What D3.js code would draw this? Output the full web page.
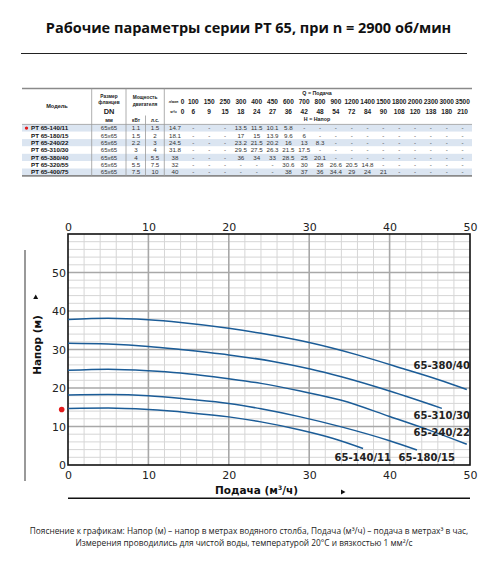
<!DOCTYPE html>
<html><head><meta charset="utf-8">
<script src="https://cdn.jsdelivr.net/npm/d3@7"></script>
<style>
body{margin:0;background:#fff;}
svg{display:block;}
</style></head>
<body>
<script>
// ---------- DATA ----------
const title = "Рабочие параметры серии PT 65, при n = 2900 об/мин";
const qLpm = ["100","150","250","300","400","450","600","700","800","900","1200","1400","1500","1800","2000","2300","3000","3500"];
const qM3h = ["6","9","15","18","24","27","36","42","48","54","72","84","90","108","120","138","180","210"];
const models = ["PT 65-140/11","PT 65-180/15","PT 65-240/22","PT 65-310/30","PT 65-380/40","PT 65-320/55","PT 65-400/75"];
const flanges = ["65х65","65х65","65х65","65х65","65х65","65х65","65х65"];
const powerKw = ["1.1","1.5","2.2","3","4","5.5","7.5"];
const powerHp = ["1.5","2","3","4","5.5","7.5","10"];
const heads = [
 ["14.7","-","-","-","13.5","11.5","10.1","5.8","-","-","-","-","-","-","-","-","-","-","-"],
 ["18.1","-","-","-","17","15","13.9","9.6","6","-","-","-","-","-","-","-","-","-","-"],
 ["24.5","-","-","-","23.2","21.5","20.2","16","13","8.3","-","-","-","-","-","-","-","-","-"],
 ["31.8","-","-","-","29.5","27.5","26.3","21.5","17.5","-","-","-","-","-","-","-","-","-","-"],
 ["38","-","-","-","36","34","33","28.5","25","20.1","-","-","-","-","-","-","-","-","-"],
 ["32","-","-","-","-","-","-","30.6","30","28","26.6","20.5","14.8","-","-","-","-","-","-"],
 ["40","-","-","-","-","-","-","38","37","36","34.4","29","24","21","-","-","-","-","-"]
];
const xTicks = [0,10,20,30,40,50];
const yTicks = [0,10,20,30,40,50];
// curves: flow (m3/h) and head (m)
const curveNames = ["65-380/40","65-310/30","65-240/22","65-180/15","65-140/11"];
const q380 = [0,5,10,14,20,24,30,36,42,46,49.6];
const h380 = [37.8,38.1,37.7,37.0,35.5,34.2,31.8,28.6,24.8,22.2,19.6];
const q310 = [0,5,10,14,20,25.5,30,34,40,46.5];
const h310 = [31.6,31.4,30.8,30.0,28.6,26.9,25.0,22.9,19.2,14.7];
const q240 = [0,5,10,14,20,24,28.9,34,40,45,49.6];
const h240 = [24.6,24.9,24.5,23.9,22.4,21.2,19.2,16.8,12.6,9.0,5.4];
const q180 = [0,5,10,15,20,24,28.9,34,40,43.4];
const h180 = [18.2,18.3,18.0,17.1,16.0,14.6,12.5,9.9,6.3,3.9];
const q140 = [0,5,10,15,20,24,28.9,33,36.7];
const h140 = [14.7,14.8,14.4,13.6,12.5,11.2,9.1,6.9,4.3];
const footer1 = "Пояснение к графикам: Напор (м) – напор в метрах водяного столба, Подача (м³/ч) – подача в метрах³ в час,";
const footer2 = "Измерения проводились для чистой воды, температурой 20°С и вязкостью 1 мм²/с";

// ---------- DRAW ----------
const W = 500, H = 567;
const svg = d3.select("body").append("svg").attr("width", W).attr("height", H);
const TF = "'Open Sans', 'Noto Sans', sans-serif";
const SF = "'Liberation Sans', Arial, sans-serif";

svg.append("text").attr("x", 248.5).attr("y", 33).attr("text-anchor","middle")
  .style("font-family", TF).style("font-weight","bold").style("font-size","14.5px").attr("fill","#111").text(title);
svg.append("line").attr("x1",21).attr("x2",467).attr("y1",53.5).attr("y2",53.5).attr("stroke","#222").attr("stroke-width",1);

// ---------- TABLE ----------
const tb = svg.append("g");
const tL = 22, tR = 472, tTop = 88.5, hdrBot = 124.4, rowH = 7.35;
const qBand = d3.scaleBand().domain(qLpm).range([185.4, 470.5]);
const rowY = d3.scaleBand().domain(models).range([hdrBot, hdrBot + rowH*models.length]);
models.forEach((m,i)=>{
  tb.append("rect").attr("x",tL).attr("width",tR-tL).attr("y",rowY(m)).attr("height",rowY.bandwidth())
    .attr("fill", i%2===0 ? "#dbe5f1" : "#ffffff");
});
tb.append("line").attr("x1",tL).attr("x2",tR).attr("y1",tTop).attr("y2",tTop).attr("stroke","#8a8a8a").attr("stroke-width",1.6);
tb.append("line").attr("x1",tL).attr("x2",tR).attr("y1",hdrBot).attr("y2",hdrBot).attr("stroke","#9a9a9a").attr("stroke-width",0.8);
const tBot = hdrBot + rowH*models.length;
tb.append("line").attr("x1",tL).attr("x2",tR).attr("y1",tBot).attr("y2",tBot).attr("stroke","#8a8a8a").attr("stroke-width",1.6);
[[91.7,tTop,tBot],[126,tTop,tBot],[164.3,tTop,tBot],[145.5,115.5,tBot]].forEach(v=>{
  tb.append("line").attr("x1",v[0]).attr("x2",v[0]).attr("y1",v[1]).attr("y2",v[2]).attr("stroke","#9a9a9a").attr("stroke-width",0.8);
});
function tt(x,y,s,size,bold,anchor,col){
  return tb.append("text").attr("x",x).attr("y",y).attr("text-anchor",anchor||"middle")
    .style("font-family",SF).style("font-size",size+"px").style("font-weight",bold?"bold":"normal")
    .attr("fill",col||"#222").text(s);
}
tt(57,108,"Модель",5.6,true);
tt(109,98,"Размер",4.8,true); tt(109,104,"фланцев",4.8,true);
tt(109,114,"DN",7.4,true); tt(109,121.5,"мм",5.2,true);
tt(145,99,"Мощность",4.8,true); tt(145,105.5,"двигателя",4.8,true);
tt(136,121.5,"кВт",4.6,true); tt(155,121.5,"л.с.",4.6,true);
tt(317,95.3,"Q = Подача",5.3,true);
tt(317,121,"H = Напор",5.3,true);
tt(173.5,103.3,"л/мин",3.4,true); tt(182.5,103.6,"0",6.5,true);
tt(173.5,113.3,"м³/ч",3.4,true); tt(182.5,113.6,"0",6.5,true);
qLpm.forEach((q,j)=>tt(qBand(q)+qBand.bandwidth()/2,103.6,q,6.5,true));
qLpm.forEach((q,j)=>tt(qBand(q)+qBand.bandwidth()/2,113.6,qM3h[j],6.5,true));
models.forEach((m,i)=>{
  const yy = rowY(m)+rowY.bandwidth()/2+2.3;
  tt(31,yy,m,6.2,true,"start","#111");
  tt(109,yy,flanges[i],6,false,"middle","#333");
  tt(136,yy,powerKw[i],6.2,false,"middle","#333");
  tt(155,yy,powerHp[i],6.2,false,"middle","#333");
  heads[i].forEach((v,j)=>{
    const cx = j===0 ? 175 : qBand(qLpm[j-1])+qBand.bandwidth()/2;
    tt(cx,yy,v,6.2,false,"middle","#333");
  });
});
tb.append("circle").attr("cx",26.5).attr("cy",rowY(models[0])+rowY.bandwidth()/2).attr("r",1.7).attr("fill","#e31b1b");

// ---------- CHART ----------
const x = d3.scaleLinear().domain([0,50]).range([68,470]);
const y = d3.scaleLinear().domain([0,60]).range([465,234]);
const g = svg.append("g");
const AF = "'DejaVu Sans', Verdana, sans-serif";
// minor grid
g.selectAll(".vx").data(d3.range(0,51,2).filter(d=>d%10!==0)).join("line")
  .attr("x1",d=>x(d)).attr("x2",d=>x(d)).attr("y1",y(0)).attr("y2",y(60)).attr("stroke","#d6d6d6").attr("stroke-width",1);
g.selectAll(".hy").data(d3.range(0,61,2).filter(d=>d%10!==0)).join("line")
  .attr("x1",x(0)).attr("x2",x(50)).attr("y1",d=>y(d)).attr("y2",d=>y(d)).attr("stroke","#d6d6d6").attr("stroke-width",1);
// major grid
g.selectAll(".mx").data([10,20,30,40]).join("line")
  .attr("x1",d=>x(d)).attr("x2",d=>x(d)).attr("y1",y(0)).attr("y2",y(60)).attr("stroke","#a8a8a8").attr("stroke-width",1.6);
g.selectAll(".my").data([10,20,30,40,50]).join("line")
  .attr("x1",x(0)).attr("x2",x(50)).attr("y1",d=>y(d)).attr("y2",d=>y(d)).attr("stroke","#a8a8a8").attr("stroke-width",1.6);
// border
g.append("rect").attr("x",x(0)).attr("y",y(60)).attr("width",x(50)-x(0)).attr("height",y(0)-y(60))
  .attr("fill","none").attr("stroke","#111").attr("stroke-width",1.6);

// axes
function styleAxis(sel){
  sel.select(".domain").remove();
  sel.selectAll("line").remove();
  sel.selectAll("text").style("font-family",AF).style("font-size","11px").attr("fill","#222");
}
svg.append("g").attr("transform",`translate(0,${y(60)})`)
  .call(d3.axisTop(x).tickValues(xTicks).tickSize(0).tickPadding(3)).call(styleAxis);
svg.append("g").attr("transform",`translate(0,${y(0)})`)
  .call(d3.axisBottom(x).tickValues(xTicks).tickSize(0).tickPadding(6)).call(styleAxis);
svg.append("g").attr("transform",`translate(${x(0)-1},0)`)
  .call(d3.axisLeft(y).tickValues(yTicks).tickSize(0).tickPadding(1)).call(styleAxis);

// curves
const series = [[q380,h380],[q310,h310],[q240,h240],[q180,h180],[q140,h140]];
const line = d3.line().x(d=>x(d[0])).y(d=>y(d[1])).curve(d3.curveMonotoneX);
series.forEach((s,i)=>{
  const pts = s[0].map((q,k)=>[q,s[1][k]]);
  g.append("path").datum(pts).attr("d",line).attr("fill","none").attr("stroke","#1b5c97").attr("stroke-width",1.5);
});
// curve labels
const labPos = [[470,368.5,"end"],[470,419,"end"],[470,436,"end"],[455,460.5,"end"],[391,460.5,"end"]];
curveNames.forEach((n,i)=>{
  svg.append("text").attr("x",labPos[i][0]).attr("y",labPos[i][1]).attr("text-anchor",labPos[i][2])
    .style("font-family",AF).style("font-weight","bold").style("font-size","10px").attr("fill","#222").text(n);
});

// red marker on the axis
svg.append("circle").attr("cx",61.7).attr("cy",y(14.4)).attr("r",2.8).attr("fill","#e31b1b");

// axis titles
svg.append("line").attr("x1",25).attr("x2",25).attr("y1",250).attr("y2",481).attr("stroke","#777").attr("stroke-width",1.5);
svg.append("text").attr("transform","translate(41,345) rotate(-90)").attr("text-anchor","middle")
  .style("font-family",AF).style("font-weight","bold").style("font-size","10.5px").attr("fill","#111").text("Напор (м)");
svg.append("path").attr("d","M33.2,299 L38.2,299 L35.7,294.5 Z").attr("fill","#111");
svg.append("text").attr("x",256.5).attr("y",494).attr("text-anchor","middle")
  .style("font-family",AF).style("font-weight","bold").style("font-size","10.5px").attr("fill","#111")
  .html("Подача (м<tspan dy='-4' font-size='6px'>3</tspan><tspan dy='4'>/ч)</tspan>");
svg.append("path").attr("d","M341,489.5 L341,494.5 L345.5,492 Z").attr("fill","#111");
svg.append("line").attr("x1",x(0)).attr("x2",x(50)).attr("y1",498.3).attr("y2",498.3).attr("stroke","#111").attr("stroke-width",1.5);

// footer
svg.append("text").attr("x",249).attr("y",533.5).attr("text-anchor","middle")
  .style("font-family",TF).style("font-size","8.3px").attr("fill","#222").text(footer1);
svg.append("text").attr("x",244).attr("y",545.5).attr("text-anchor","middle")
  .style("font-family",TF).style("font-size","8.3px").attr("fill","#222").text(footer2);
</script>
</body></html>
